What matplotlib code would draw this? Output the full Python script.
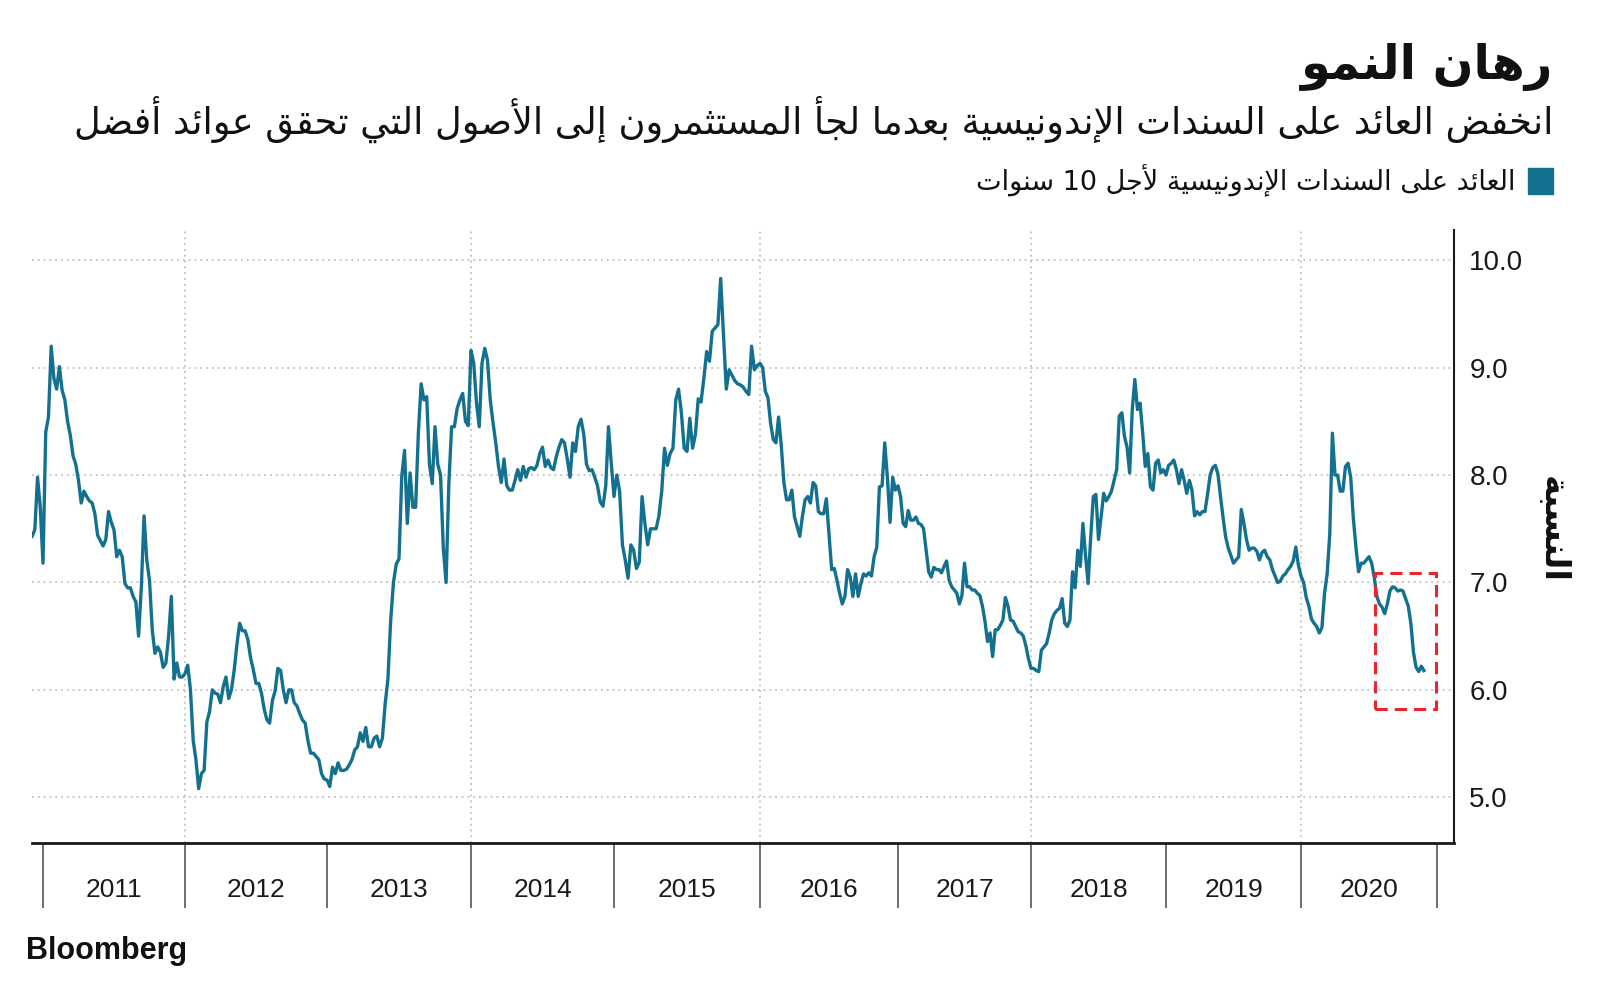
import re
import numpy as np
import matplotlib
matplotlib.use("Agg")
import matplotlib.pyplot as plt
from matplotlib.patches import Rectangle

# ---- data: Indonesia 10y yield, weekly readings, one list per year ----
y2010 = [7.43, 7.49, 7.98, 7.70]
y2011 = [7.18, 8.40, 8.54, 9.20, 8.90, 8.80, 9.01, 8.79, 8.70, 8.50,
         8.37, 8.18, 8.10, 7.95, 7.74, 7.85, 7.80, 7.76, 7.74, 7.64,
         7.44, 7.39, 7.34, 7.40, 7.66, 7.56, 7.49, 7.24, 7.30, 7.24,
         6.99, 6.95, 6.95, 6.87, 6.82, 6.50, 6.95, 7.62, 7.21, 7.02,
         6.56, 6.34, 6.40, 6.35, 6.21, 6.25, 6.50, 6.87, 6.10, 6.25,
         6.12, 6.12]
y2012 = [6.15, 6.23, 6.00, 5.53, 5.35, 5.08, 5.22, 5.25, 5.70, 5.80,
         6.00, 5.97, 5.96, 5.88, 6.03, 6.12, 5.92, 6.00, 6.18, 6.42,
         6.62, 6.55, 6.55, 6.47, 6.30, 6.19, 6.06, 6.06, 5.97, 5.82,
         5.72, 5.69, 5.90, 5.99, 6.20, 6.18, 6.00, 5.88, 6.00, 6.00,
         5.88, 5.85, 5.78, 5.72, 5.69, 5.53, 5.41, 5.41, 5.38, 5.35,
         5.22, 5.17]
y2013 = [5.16, 5.10, 5.28, 5.22, 5.32, 5.25, 5.25, 5.26, 5.30, 5.35,
         5.44, 5.47, 5.60, 5.52, 5.65, 5.47, 5.47, 5.55, 5.57, 5.47,
         5.55, 5.87, 6.10, 6.65, 7.00, 7.17, 7.22, 7.99, 8.23, 7.55,
         8.02, 7.70, 7.70, 8.40, 8.85, 8.70, 8.73, 8.10, 7.92, 8.45,
         8.10, 8.00, 7.32, 7.00, 7.92, 8.45, 8.45, 8.62, 8.70, 8.76,
         8.50, 8.46]
y2014 = [9.16, 9.04, 8.67, 8.45, 9.04, 9.18, 9.07, 8.70, 8.49, 8.30,
         8.08, 7.93, 8.15, 7.90, 7.86, 7.86, 7.95, 8.05, 7.95, 8.08,
         7.98, 8.06, 8.07, 8.05, 8.09, 8.20, 8.26, 8.08, 8.14, 8.07,
         8.05, 8.17, 8.26, 8.33, 8.30, 8.15, 7.98, 8.30, 8.22, 8.45,
         8.52, 8.38, 8.10, 8.04, 8.05, 7.98, 7.90, 7.75, 7.71, 7.90,
         8.45, 8.11]
y2015 = [7.80, 8.00, 7.85, 7.35, 7.21, 7.04, 7.35, 7.30, 7.13, 7.19,
         7.80, 7.55, 7.35, 7.50, 7.50, 7.50, 7.62, 7.85, 8.25, 8.09,
         8.20, 8.25, 8.70, 8.80, 8.58, 8.25, 8.22, 8.53, 8.25, 8.38,
         8.71, 8.68, 8.90, 9.15, 9.06, 9.34, 9.37, 9.40, 9.83, 9.30,
         8.80, 8.98, 8.93, 8.88, 8.85, 8.84, 8.82, 8.78, 8.75, 9.20,
         8.98, 9.02]
y2016 = [9.04, 9.00, 8.78, 8.72, 8.48, 8.33, 8.30, 8.54, 8.28, 7.93,
         7.77, 7.77, 7.86, 7.61, 7.52, 7.43, 7.62, 7.77, 7.80, 7.74,
         7.93, 7.90, 7.66, 7.64, 7.64, 7.78, 7.45, 7.12, 7.13, 7.02,
         6.90, 6.80, 6.87, 7.12, 7.05, 6.87, 7.08, 6.87, 6.99, 7.08,
         7.06, 7.09, 7.06, 7.24, 7.33, 7.89, 7.90, 8.30, 7.98, 7.56,
         7.98, 7.86]
y2017 = [7.90, 7.80, 7.55, 7.52, 7.67, 7.58, 7.58, 7.61, 7.55, 7.54,
         7.50, 7.30, 7.10, 7.05, 7.14, 7.12, 7.12, 7.09, 7.15, 7.20,
         7.02, 6.96, 6.93, 6.90, 6.80, 6.88, 7.18, 6.96, 6.96, 6.93,
         6.93, 6.90, 6.88, 6.78, 6.64, 6.45, 6.53, 6.31, 6.56, 6.56,
         6.60, 6.65, 6.86, 6.78, 6.65, 6.64, 6.59, 6.54, 6.53, 6.50,
         6.41, 6.29]
y2018 = [6.20, 6.20, 6.18, 6.17, 6.37, 6.40, 6.43, 6.53, 6.65, 6.71,
         6.74, 6.76, 6.85, 6.62, 6.59, 6.65, 7.10, 6.95, 7.30, 7.15,
         7.55, 7.25, 6.99, 7.42, 7.80, 7.82, 7.40, 7.61, 7.83, 7.76,
         7.80, 7.85, 7.95, 8.05, 8.55, 8.58, 8.36, 8.26, 8.02, 8.61,
         8.89, 8.61, 8.67, 8.40, 8.08, 8.20, 7.89, 7.86, 8.11, 8.14,
         8.02, 8.05]
y2019 = [8.00, 8.09, 8.11, 8.14, 8.05, 7.92, 8.05, 7.95, 7.83, 7.95,
         7.86, 7.62, 7.66, 7.63, 7.66, 7.66, 7.82, 8.00, 8.07, 8.09,
         8.01, 7.80, 7.60, 7.42, 7.32, 7.25, 7.18, 7.21, 7.24, 7.68,
         7.55, 7.40, 7.30, 7.32, 7.32, 7.29, 7.21, 7.28, 7.30, 7.24,
         7.21, 7.12, 7.06, 7.00, 7.01, 7.06, 7.08, 7.12, 7.15, 7.20,
         7.33, 7.16]
y2020 = [7.06, 7.00, 6.86, 6.78, 6.66, 6.62, 6.59, 6.53, 6.58, 6.90,
         7.08, 7.45, 8.39, 8.00, 8.00, 7.85, 7.85, 8.08, 8.11, 7.98,
         7.60, 7.33, 7.10, 7.18, 7.18, 7.21, 7.24, 7.18, 7.05, 6.87,
         6.80, 6.77, 6.71, 6.80, 6.92, 6.96, 6.95, 6.92, 6.93, 6.92,
         6.85, 6.78, 6.62, 6.35, 6.21, 6.17, 6.22, 6.18]

year_labels = [str(y) for y in range(2011, 2021)]
ytick_vals = [5.0, 6.0, 7.0, 8.0, 9.0, 10.0]
highlight_x = (2020.545, 2020.99)
highlight_y = (5.82, 7.09)

title = "رهان النمو"
subtitle = "انخفض العائد على السندات الإندونيسية بعدما لجأ المستثمرون إلى الأصول التي تحقق عوائد أفضل"
legend_label = "العائد على السندات الإندونيسية لأجل 10 سنوات"
ylabel = "النسبة"

BLUE = "#13708f"
RED = "#e8262b"

# ---- tiny arabic shaper (matplotlib has no text shaping) ----
AR_LETTERS = "ءآأؤإئابةتثجحخدذرزسشصضطظعغفقكلمنهوىي"
AR_NFORMS = [1, 2, 2, 2, 2, 4, 2, 4, 2, 4, 4, 4, 4, 4, 2, 2, 2, 2, 4, 4,
             4, 4, 4, 4, 4, 4, 4, 4, 4, 4, 4, 4, 4, 2, 2, 4]
FORMS = {}
code = 0xFE80
for ch, n in zip(AR_LETTERS, AR_NFORMS):
    FORMS[ch] = [chr(code + k) for k in range(n)]
    code += n
LAM_ALEF = {"آ": 0xFEF5, "أ": 0xFEF7, "إ": 0xFEF9, "ا": 0xFEFB}


def arabic(text):
    out = []
    prev_joins = False
    i = 0
    while i < len(text):
        c = text[i]
        nxt = text[i + 1] if i + 1 < len(text) else ""
        if c == "ل" and nxt in LAM_ALEF:
            out.append(chr(LAM_ALEF[nxt] + (1 if prev_joins else 0)))
            prev_joins = False
            i += 2
            continue
        if c in FORMS:
            f = FORMS[c]
            next_joins = nxt in FORMS and len(FORMS[nxt]) > 1
            if len(f) == 4 and prev_joins and next_joins:
                out.append(f[3])
            elif len(f) > 1 and prev_joins:
                out.append(f[1])
            elif len(f) == 4 and next_joins:
                out.append(f[2])
            else:
                out.append(f[0])
            prev_joins = len(f) == 4
        else:
            out.append(c)
            prev_joins = False
        i += 1
    s = "".join(out)[::-1]
    return re.sub(r"[0-9.]+", lambda m: m.group()[::-1], s)


# ---- build the series ----
xs, ys = [], []
for yr, vals in zip(range(2010, 2021),
                    [y2010, y2011, y2012, y2013, y2014, y2015, y2016,
                     y2017, y2018, y2019, y2020]):
    start = 52 - len(vals) if yr == 2010 else 0
    xs.extend(yr + (start + np.arange(len(vals))) / 52.0)
    ys.extend(vals)
xs = np.array(xs)
ys = np.array(ys)

# the source chart gives the years slightly different widths
year_edges = np.arange(2010, 2023)
edge_px = np.array([-99, 43, 185, 327, 471, 614, 760, 898, 1031, 1166, 1301, 1437, 1573])


def fwd(x):
    return np.interp(x, year_edges, edge_px)


def inv(p):
    return np.interp(p, edge_px, year_edges)


W, H = 1600, 985
fig = plt.figure(figsize=(W / 100, H / 100), dpi=100)
fig.patch.set_facecolor("white")

ax_l, ax_r, ax_t, ax_b = 32, 1454, 230, 843
ax = fig.add_axes([ax_l / W, 1 - ax_b / H, (ax_r - ax_l) / W, (ax_b - ax_t) / H])
ax.set_xscale("function", functions=(fwd, inv))
ax.set_xlim(inv(ax_l), inv(ax_r))
ax.set_ylim(4.574, 10.282)

ax.plot(xs, ys, color=BLUE, lw=2.4, solid_joinstyle="round", zorder=3)

ax.add_patch(Rectangle((highlight_x[0], highlight_y[0]),
                       highlight_x[1] - highlight_x[0],
                       highlight_y[1] - highlight_y[0],
                       fill=False, edgecolor=RED, lw=2.2,
                       linestyle=(0, (4, 2.3)), zorder=4))

# grid
dot = (0, (1.2, 2.6))
ax.set_yticks(ytick_vals)
ax.set_yticklabels(["%.1f" % v for v in ytick_vals])
ax.yaxis.tick_right()
ax.grid(axis="y", color="#b5b5b5", lw=1.1, linestyle=dot)
for yr in range(2012, 2021, 2):
    ax.axvline(yr, color="#b5b5b5", lw=1.1, linestyle=dot, zorder=1)

ax.set_xticks(range(2011, 2022))
ax.set_xticklabels([])
ax.set_xticks(np.arange(2011, 2021) + 0.5, minor=True)
ax.set_xticklabels(year_labels, minor=True)
ax.tick_params(axis="x", which="major", length=47, width=1.2,
               color="#555555", direction="out")
ax.tick_params(axis="x", which="minor", length=0, pad=25,
               labelsize=19, labelcolor="#1a1a1a")
ax.tick_params(axis="y", which="major", length=0, pad=11,
               labelsize=20, labelcolor="#1a1a1a")
for lab in ax.get_xticklabels(minor=True) + ax.get_yticklabels():
    lab.set_family("Liberation Sans")

for s in ["top", "left"]:
    ax.spines[s].set_visible(False)
ax.spines["bottom"].set_linewidth(2.0)
ax.spines["bottom"].set_color("#1a1a1a")
ax.spines["right"].set_linewidth(1.5)
ax.spines["right"].set_color("#1a1a1a")

# ---- text ----
def fx(px):
    return px / W


def fy(py):
    return 1 - py / H


fig.text(fx(1553), fy(79), arabic(title), ha="right", va="baseline",
         fontsize=34.5, fontweight="bold", family="DejaVu Sans", color="#111111")
fig.text(fx(1553), fy(134), arabic(subtitle), ha="right", va="baseline",
         fontsize=26.5, family="DejaVu Sans", color="#111111")

fig.patches.append(Rectangle((fx(1528), fy(194)), 25 / W, 26 / H,
                             transform=fig.transFigure, color=BLUE))
fig.text(fx(1515), fy(190), arabic(legend_label), ha="right", va="baseline",
         fontsize=19.5, family="DejaVu Sans", color="#111111")

fig.text(fx(1552), fy(530), arabic(ylabel), ha="center", va="center",
         rotation=270, fontsize=24.5, fontweight="bold", family="DejaVu Sans",
         color="#111111")

fig.text(fx(26), fy(951), "Bloomberg", ha="left", va="center",
         fontsize=22, fontweight="bold", family="Liberation Sans", color="#111111")

fig.savefig("out.png", dpi=100, facecolor="white")
